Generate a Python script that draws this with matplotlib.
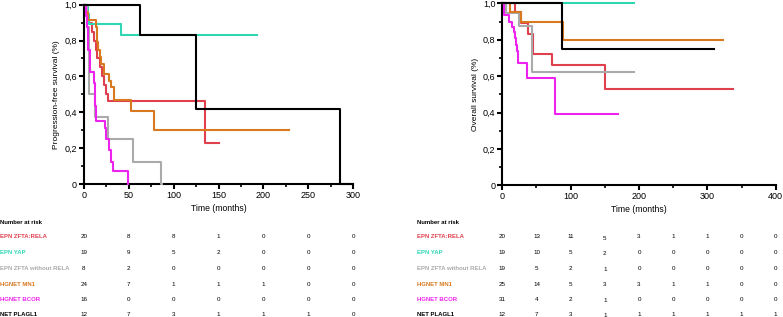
import numpy as np
import matplotlib
matplotlib.use("Agg")
import matplotlib.pyplot as plt
import matplotlib.ticker as mtick

plt.rcParams['font.family'] = ['Liberation Sans', 'DejaVu Sans']

groups = ["EPN ZFTA:RELA", "EPN YAP", "EPN ZFTA without RELA", "HGNET MN1", "HGNET BCOR", "NET PLAGL1"]
colors = ["#e0404e", "#2fd6b4", "#aaaaaa", "#d8781f", "#ee22ee", "#000000"]

# progression-free survival: (time, survival) step points
pfs_times = [
    [0, 2, 5, 9, 11, 13, 15, 18, 20, 22, 25, 27, 135, 150],
    [0, 4, 6, 41, 193],
    [0, 3, 6, 12, 27, 55, 86, 86.5],
    [0, 2, 5, 13, 14, 15, 16, 18, 19, 22, 28, 30, 33, 52, 78, 229],
    [0, 2, 3, 4, 5, 7, 11, 12, 13, 23, 25, 28, 30, 32, 49, 49.5],
    [0, 62, 125, 286, 300],
]
pfs_surv = [
    [1.0, 0.95, 0.90, 0.85, 0.80, 0.75, 0.70, 0.65, 0.60, 0.55, 0.50, 0.463, 0.23, 0.23],
    [1.0, 0.947, 0.895, 0.829, 0.829],
    [1.0, 0.875, 0.5, 0.375, 0.25, 0.125, 0.0, 0.0],
    [1.0, 0.958, 0.917, 0.875, 0.833, 0.792, 0.75, 0.708, 0.667, 0.613, 0.575, 0.539, 0.47, 0.405, 0.301, 0.301],
    [1.0, 0.9375, 0.875, 0.8125, 0.75, 0.625, 0.5625, 0.4375, 0.35, 0.3125, 0.25, 0.1875, 0.125, 0.07, 0.0, 0.0],
    [1.0, 0.833, 0.417, 0.0, 0.0],
]

# overall survival
os_times = [
    [0, 19, 27, 37, 45, 73, 150, 338],
    [0, 192],
    [0, 5, 25, 43, 193],
    [0, 11, 27, 89, 323],
    [0, 2, 10, 14, 17, 18, 20, 21, 23, 36, 77, 170],
    [0, 88, 309],
]
os_surv = [
    [1.0, 0.95, 0.89, 0.83, 0.72, 0.66, 0.527, 0.527],
    [1.0, 1.0],
    [1.0, 0.947, 0.877, 0.625, 0.625],
    [1.0, 0.954, 0.90, 0.80, 0.80],
    [1.0, 0.935, 0.90, 0.87, 0.84, 0.81, 0.77, 0.74, 0.674, 0.588, 0.392, 0.392],
    [1.0, 0.751, 0.751],
]

pfs_risk_times = [0, 50, 100, 150, 200, 250, 300]
pfs_risk = [
    [20, 8, 8, 1, 0, 0, 0],
    [19, 9, 5, 2, 0, 0, 0],
    [8, 2, 0, 0, 0, 0, 0],
    [24, 7, 1, 1, 1, 0, 0],
    [16, 0, 0, 0, 0, 0, 0],
    [12, 7, 3, 1, 1, 1, 0],
]
os_risk_times = [0, 50, 100, 150, 200, 250, 300, 350, 400]
os_risk = [
    [20, 13, 11, 5, 3, 1, 1, 0, 0],
    [19, 10, 5, 2, 0, 0, 0, 0, 0],
    [19, 5, 2, 1, 0, 0, 0, 0, 0],
    [25, 14, 5, 3, 3, 1, 1, 0, 0],
    [31, 4, 2, 1, 0, 0, 0, 0, 0],
    [12, 7, 3, 1, 1, 1, 1, 1, 1],
]


def comma_fmt(v, pos):
    if abs(v) < 1e-9:
        return "0"
    return ("%.1f" % v).replace(".", ",")


def draw_panel(ax, times, surv, xmax, xmajor, xminor, ylabel, risk_times, risk, bottom_px, height_px, lowered=None):
    for t, s, c in zip(times, surv, colors):
        ax.step(t, s, where='post', color=c, lw=1.5, clip_on=False, zorder=3)
    ax.set_xlim(0, xmax)
    ax.set_ylim(0, 1.0)
    for side in ['top', 'right']:
        ax.spines[side].set_visible(False)
    for side in ['left', 'bottom']:
        ax.spines[side].set_linewidth(1.5)
    ax.xaxis.set_major_locator(mtick.MultipleLocator(xmajor))
    ax.xaxis.set_minor_locator(mtick.MultipleLocator(xminor))
    ax.yaxis.set_major_locator(mtick.MultipleLocator(0.2))
    ax.yaxis.set_minor_locator(mtick.MultipleLocator(0.1))
    ax.yaxis.set_major_formatter(mtick.FuncFormatter(comma_fmt))
    ax.tick_params(which='major', direction='out', length=3.5, width=1.5, labelsize=6.5, pad=1.5)
    ax.tick_params(which='minor', direction='out', length=2, width=1.2)
    ax.set_xlabel("Time (months)", fontsize=6.2, labelpad=3)
    ax.set_ylabel(ylabel, fontsize=6, labelpad=3)

    # number at risk table, rows given in pixel offsets below the axis
    def ya(py):
        return (bottom_px - py) / height_px
    ax.text(-0.312, ya(223), "Number at risk", transform=ax.transAxes, fontsize=4.3,
            fontweight='bold', va='center', ha='left')
    row_py = [237, 252.5, 268.5, 284, 299.5, 314.5]
    for name, c, counts, py in zip(groups, colors, risk, row_py):
        ax.text(-0.312, ya(py), name, transform=ax.transAxes, fontsize=4.3,
                fontweight='bold', color=c, va='center', ha='left')
        for t, n in zip(risk_times, counts):
            dy = 1.0 if (lowered is not None and t == lowered) else 0
            ax.text(t, ya(py + dy), str(n), transform=ax.get_xaxis_transform(),
                    fontsize=4.5, va='center', ha='center', clip_on=False)


fig = plt.figure(figsize=(7.83, 3.17), dpi=100)
W, H = 783, 317
ax1 = fig.add_axes([84 / W, (H - 184) / H, (353 - 84) / W, (184 - 4.7) / H])
ax2 = fig.add_axes([502.3 / W, (H - 185.3) / H, (775.7 - 502.3) / W, (185.3 - 3.3) / H])

draw_panel(ax1, pfs_times, pfs_surv, 300, 50, 25, "Progression-free survival (%)",
           pfs_risk_times, pfs_risk, 184, 184 - 4.7)
draw_panel(ax2, os_times, os_surv, 400, 100, 50, "Overall survival (%)",
           os_risk_times, os_risk, 185.3, 185.3 - 3.3, lowered=150)

fig.savefig("out.png", dpi=100)
